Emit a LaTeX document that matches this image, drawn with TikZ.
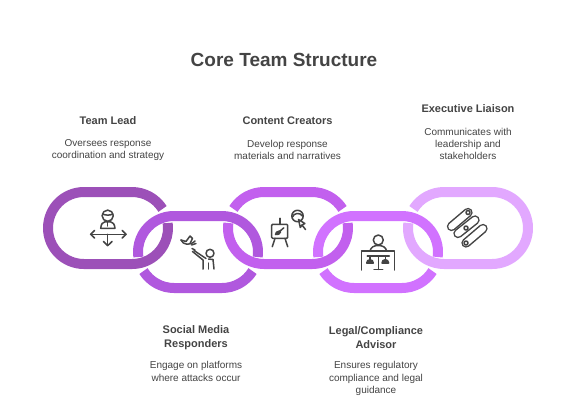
\documentclass[tikz,border=0pt]{standalone}
\usepackage{fontspec}
\setmainfont{Liberation Sans}
\definecolor{ink}{HTML}{444444}
\definecolor{ringa}{HTML}{9C50B8}
\definecolor{ringb}{HTML}{B058DE}
\definecolor{ringc}{HTML}{C260EE}
\definecolor{ringd}{HTML}{D172FF}
\definecolor{ringe}{HTML}{E2A8FF}
\tikzset{
  ringpiece/.style={line width=10pt,line cap=butt,line join=round},
  headtext/.style={font=\bfseries\fontsize{11}{14}\selectfont,text=ink,align=center,inner sep=0pt},
  bodytext/.style={font=\fontsize{10}{12.3}\selectfont,text=ink,align=center,inner sep=0pt},
  titletext/.style={font=\bfseries\fontsize{19}{23}\selectfont,text=ink,align=center,inner sep=0pt},
  icon/.style={draw=ink,line width=1.5pt,line cap=round,line join=round},
  capsule/.style={line width=9.4pt,line cap=round,draw=ink},
  capsulein/.style={line width=6.4pt,line cap=round,draw=white},
}
% #1 colour, #2 left arc centre x, #3 right arc centre x, #4 arc centre y
\newcommand{\linktop}[4]{\draw[ringpiece,draw=#1] (#2,#4) ++(212:36) arc[start angle=212,end angle=270,radius=36] -- (#3,#4-36) arc[start angle=270,end angle=328,radius=36];}
\newcommand{\linkbottom}[4]{\draw[ringpiece,draw=#1] (#3,#4) ++(-8:36) arc[start angle=-8,end angle=90,radius=36] -- (#2,#4+36) arc[start angle=90,end angle=188,radius=36];}
\newcommand{\lowtop}[4]{\draw[ringpiece,draw=#1] (#2,#4) ++(172:36) arc[start angle=172,end angle=270,radius=36] -- (#3,#4-36) arc[start angle=270,end angle=368,radius=36];}
\newcommand{\lowbottom}[4]{\draw[ringpiece,draw=#1] (#3,#4) ++(32:36) arc[start angle=32,end angle=90,radius=36] -- (#2,#4+36) arc[start angle=90,end angle=148,radius=36];}
\begin{document}
\begin{tikzpicture}[x=1pt,y=-1pt]
\useasboundingbox (0,0) rectangle (568,416);
\fill[white] (0,0) rectangle (568,416);
% links
\draw[ringpiece,draw=ringa] (132,228) ++(-8:36) arc[start angle=-8,end angle=90,radius=36] -- (84,264) arc[start angle=90,end angle=270,radius=36] -- (132,192) arc[start angle=270,end angle=328,radius=36];
\lowtop{ringb}{174}{222}{252}
\lowbottom{ringb}{174}{222}{252}
\linktop{ringc}{264}{312}{228}
\linkbottom{ringc}{264}{312}{228}
\lowtop{ringd}{354}{402}{252}
\lowbottom{ringd}{354}{402}{252}
\draw[ringpiece,draw=ringe] (444,228) ++(212:36) arc[start angle=212,end angle=270,radius=36] -- (492,192) arc[start angle=270,end angle=450,radius=36] -- (444,264) arc[start angle=90,end angle=188,radius=36];
% texts
\node[titletext] (title) at (284,60) {Core Team Structure};
\node[headtext] (leadh) at (108,120.5) {Team Lead};
\node[bodytext] (leadb) at (108,150) {Oversees response\\coordination and strategy};
\node[headtext] (conth) at (287.5,120.5) {Content Creators};
\node[bodytext] (contb) at (287.5,150) {Develop response\\materials and narratives};
\node[headtext] (exech) at (468,108.5) {Executive Liaison};
\node[bodytext] (execb) at (468,144) {Communicates with\\leadership and\\stakeholders};
\node[headtext] (soch) at (196,337.5) {Social Media\\Responders};
\node[bodytext] (socb) at (196,371.5) {Engage on platforms\\where attacks occur};
\node[headtext] (legh) at (376,337.5) {Legal/Compliance\\Advisor};
\node[bodytext] (legb) at (376,378.5) {Ensures regulatory\\compliance and legal\\guidance};
% icon: lead
\draw[icon] (107.7,215.7) circle[radius=5.6pt];
\draw[icon] (102.6,214) .. controls (106,215.5) and (109.5,215.5) .. (113,214);
\draw[icon] (100.7,228.3) .. controls (101,224) and (103,221.8) .. (105,221.8) -- (110.5,221.8) .. controls (112.5,221.8) and (114.7,224) .. (115,228.3) -- cycle;
\draw[icon] (107.7,222) -- (107.7,226);
\draw[icon] (90.7,234.3) -- (126,234.3);
\draw[icon] (94.5,230.5) -- (90.7,234.3) -- (94.5,238);
\draw[icon] (122.2,230.5) -- (126,234.3) -- (122.2,238);
\draw[icon] (107.7,234.3) -- (107.7,245.7);
\draw[icon] (103.5,241.5) -- (107.7,245.7) -- (112,241.5);
% icon: responder
\draw[icon] (181,240) .. controls (183,245) and (190,246) .. (195,241);
\draw[icon] (181,240) -- (186,241.5) -- (190,236) -- (192.5,238.5) -- (190,243.5);
\draw[icon] (191.5,245) -- (196,243.5);
\draw[icon] (210,253.3) circle[radius=4pt];
\draw[icon] (192,248.5) -- (195,250) (194,250.5) -- (206,258.5);
\draw[icon] (192.5,251.5) -- (203,260) -- (203,269);
\draw[icon] (208.5,259) -- (213,259.5) -- (214,269);
\draw[icon] (208.5,263) -- (208.5,269);
% icon: creator
\draw[icon,rounded corners=1pt] (271.7,224.3) rectangle (287.7,238.3);
\draw[icon] (280,218.3) -- (280,224.3);
\draw[icon] (275,238.3) -- (272.3,246.7);
\draw[icon] (285,238.3) -- (287.7,246.7);
\draw[icon] (283.8,227.8) -- (279.5,231.5);
\draw[icon,fill=ink] (279.5,231) .. controls (277,231) and (275.5,233) .. (275.5,234.5) .. controls (277.5,235) and (280.5,234) .. (280.5,232) -- cycle;
\draw[icon] (297.5,216) circle[radius=5.7pt];
\draw[icon] (292.5,217) .. controls (293.5,213) and (300,212) .. (302.5,216);
\draw[icon,fill=white] (298.5,219.5) -- (304.8,223.5) -- (302,225) -- (300.3,227.5) -- cycle;
\draw[icon] (302,225) -- (305.5,229.5);
% icon: legal
\draw[icon] (378.3,240) circle[radius=5pt];
\draw[icon] (370,251) .. controls (371,247) and (374,245.5) .. (378.3,245.5) .. controls (382.5,245.5) and (385.7,247) .. (386.7,251);
\draw[icon] (361.7,270) -- (361.7,251) -- (394.3,251) -- (394.3,270);
\draw[icon] (367.3,256) -- (389.3,256);
\draw[icon] (378.3,256) -- (378.3,269.3);
\draw[icon] (374,269.3) -- (382.7,269.3);
\draw[icon] (370,256.5) -- (370,263);
\draw[icon] (385.3,256.5) -- (385.3,263);
\draw[icon,fill=ink] (366.7,263) arc[start angle=180,end angle=0,radius=3.3pt] -- cycle;
\draw[icon,fill=ink] (382,263) arc[start angle=180,end angle=0,radius=3.3pt] -- cycle;
% icon: liaison
\draw[capsule] (451.5,226.5) -- (468,212.5);
\draw[capsulein] (451.5,226.5) -- (468,212.5);
\draw[capsule] (458,233.5) -- (475,220);
\draw[capsulein] (458,233.5) -- (475,220);
\draw[capsule] (466,243) -- (483,228.5);
\draw[capsulein] (466,243) -- (483,228.5);
\draw[icon,fill=white] (468,212.5) circle[radius=2pt];
\draw[icon,fill=white] (466,228) circle[radius=2pt];
\draw[icon,fill=white] (466,243) circle[radius=2pt];
\end{tikzpicture}
\end{document}
